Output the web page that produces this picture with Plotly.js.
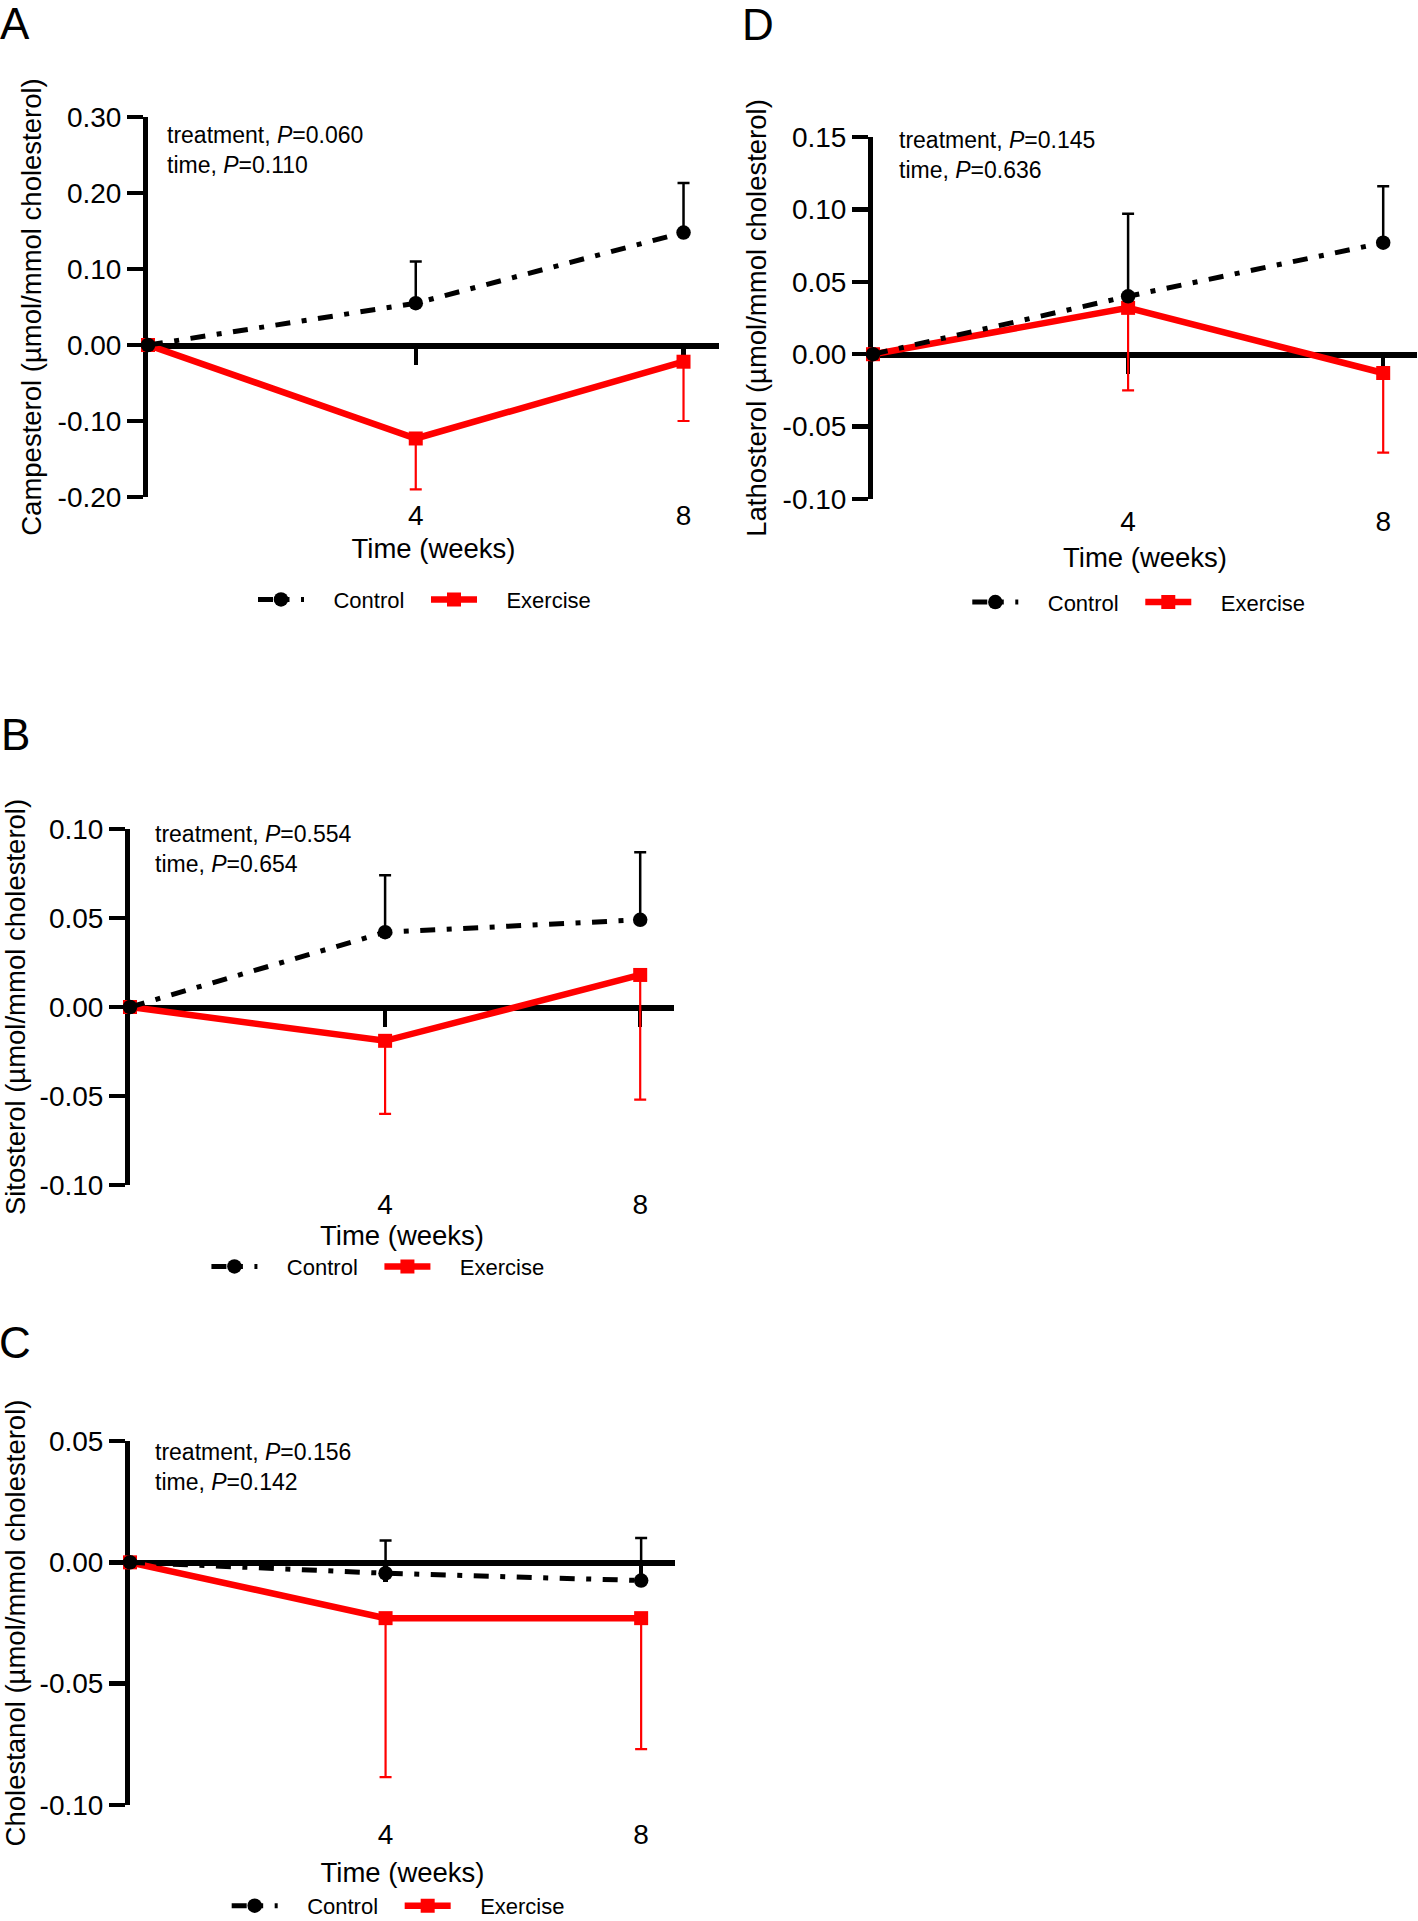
<!DOCTYPE html>
<html>
<head>
<meta charset="utf-8">
<script src="https://cdn.plot.ly/plotly-3.0.1.min.js"></script>
<style>
  body { margin: 0; background: #fff; }
  #page { position: relative; width: 1418px; height: 1921px; overflow: hidden; background: #fff; }
  .panel { position: absolute; }
</style>
</head>
<body>
<div id="page">
  <div id="panelA" class="panel"></div>
  <div id="panelD" class="panel"></div>
  <div id="panelB" class="panel"></div>
  <div id="panelC" class="panel"></div>
</div>
<script>
// time points (weeks)
const weeks = [0, 4, 8];
const weekTicks = [4, 8];
const weekLabels = ['4', '8'];
const noErr = [0, 0, 0];

// A - Campesterol
const campControl = [0, 0.055, 0.148];
const campControlSD = [0, 0.055, 0.065];
const campExercise = [0, -0.123, -0.022];
const campExerciseSD = [0, 0.067, 0.078];
const campTicks = [-0.2, -0.1, 0, 0.1, 0.2, 0.3];
const campLabels = ['-0.20', '-0.10', '0.00', '0.10', '0.20', '0.30'];
const campP = ['0.060', '0.110'];

// D - Lathosterol
const lathControl = [0, 0.040, 0.077];
const lathControlSD = [0, 0.057, 0.039];
const lathExercise = [0, 0.032, -0.013];
const lathExerciseSD = [0, 0.057, 0.055];
const lathTicks = [-0.1, -0.05, 0, 0.05, 0.1, 0.15];
const lathLabels = ['-0.10', '-0.05', '0.00', '0.05', '0.10', '0.15'];
const lathP = ['0.145', '0.636'];

// B - Sitosterol
const sitoControl = [0, 0.042, 0.049];
const sitoControlSD = [0, 0.032, 0.038];
const sitoExercise = [0, -0.019, 0.018];
const sitoExerciseSD = [0, 0.041, 0.070];
const sitoTicks = [-0.1, -0.05, 0, 0.05, 0.1];
const sitoLabels = ['-0.10', '-0.05', '0.00', '0.05', '0.10'];
const sitoP = ['0.554', '0.654'];

// C - Cholestanol
const cholControl = [0, -0.0045, -0.0075];
const cholControlSD = [0, 0.0135, 0.0175];
const cholExercise = [0, -0.023, -0.023];
const cholExerciseSD = [0, 0.0655, 0.054];
const cholTicks = [-0.1, -0.05, 0, 0.05];
const cholLabels = ['-0.10', '-0.05', '0.00', '0.05'];
const cholP = ['0.156', '0.142'];

const FONT = 'Liberation Sans, Arial, Helvetica, sans-serif';
const XMAX = 8.53;
const PAD = '\u00a0\u00a0\u00a0\u00a0'; // gap between legend symbol and label

// box / plot are page pixels: box = [left, top, w, h], plot = [x0, y0, x1, y1]
function drawPanel(cfg) {
    const [bx, by, bw, bh] = cfg.box;
    const [px0, py0, px1, py1] = cfg.plot;
    const el = document.getElementById(cfg.id);
    el.style.left = bx + 'px';
    el.style.top = by + 'px';
    el.style.width = bw + 'px';
    el.style.height = bh + 'px';

    const pw = px1 - px0, ph = py1 - py0;
    const fx = x => (x - px0) / pw;
    const fy = y => (py1 - y) / ph;
    const yr = [cfg.ticks[0], cfg.ticks[cfg.ticks.length - 1]];
    const zeroPos = (0 - yr[0]) / (yr[1] - yr[0]);

    // exercise sits on the bottom (label) axis, control on the axis through y = 0
    const exercise = {
        x: weeks, y: cfg.exercise, name: PAD + 'Exercise', type: 'scatter', mode: 'lines+markers',
        xaxis: 'x', yaxis: 'y',
        line: { color: '#ff0000', width: 6.5 },
        marker: { symbol: 'square', size: 14, color: '#ff0000' },
        error_y: { type: 'data', symmetric: false, array: noErr, arrayminus: cfg.exerciseSD,
                   color: '#ff0000', thickness: 2.2, width: 6 },
        cliponaxis: false, legendrank: 2
    };
    const control = {
        x: weeks, y: cfg.control, name: PAD + 'Control', type: 'scatter', mode: 'lines+markers',
        xaxis: 'x2', yaxis: 'y',
        line: { color: '#000000', width: 5, dash: '15px,11.5px,5px,11.5px' },
        marker: { symbol: 'circle', size: 14.5, color: '#000000' },
        error_y: { type: 'data', symmetric: false, array: cfg.controlSD, arrayminus: noErr,
                   color: '#000000', thickness: 2.5, width: 6 },
        cliponaxis: false, legendrank: 1
    };

    const layout = {
        width: bw, height: bh,
        margin: { l: px0 - bx, r: bx + bw - px1, t: py0 - by, b: by + bh - py1, pad: 0 },
        paper_bgcolor: '#ffffff', plot_bgcolor: '#ffffff',
        font: { family: FONT, color: '#000' },
        showlegend: true,
        legend: {
            orientation: 'h', x: fx(cfg.legend[0]), xanchor: 'left',
            y: fy(cfg.legend[1]), yanchor: 'middle',
            font: { family: FONT, size: 22, color: '#000' },
            itemwidth: 46, entrywidth: 112, bgcolor: 'rgba(0,0,0,0)'
        },
        xaxis: {
            range: [0, XMAX], showline: false, showgrid: false, zeroline: false,
            tickvals: weekTicks, ticktext: weekLabels,
            ticks: 'outside', ticklen: 0, tickcolor: 'rgba(0,0,0,0)',
            ticklabelstandoff: cfg.xLabelShift,
            tickfont: { family: FONT, size: 28 },
            title: { text: 'Time (weeks)', font: { family: FONT, size: 27.5 }, standoff: cfg.xTitleGap }
        },
        // horizontal axis drawn through y = 0
        xaxis2: {
            overlaying: 'x', anchor: 'free', position: zeroPos, side: 'bottom', range: [0, XMAX],
            showline: true, linewidth: 5.5, linecolor: '#000',
            ticks: 'outside', ticklen: 16, tickwidth: 4.5, tickcolor: '#000',
            tickvals: weekTicks, showticklabels: false,
            showgrid: false, zeroline: false, layer: 'below traces'
        },
        yaxis: {
            range: yr, showline: true, linewidth: 5, linecolor: '#000',
            ticks: 'outside', ticklen: 16, tickwidth: 4.5, tickcolor: '#000',
            tickvals: cfg.ticks, ticktext: cfg.labels,
            tickfont: { family: FONT, size: 28 },
            showgrid: false, zeroline: false, layer: 'below traces',
            title: { text: cfg.yTitle, font: { family: FONT, size: 27.5 }, standoff: cfg.yTitleGap }
        },
        annotations: [
            {
                xref: 'paper', yref: 'paper', x: fx(cfg.stats[0]), y: fy(cfg.stats[1]),
                xanchor: 'left', yanchor: 'middle', align: 'left', showarrow: false,
                text: 'treatment, <i>P</i>=' + cfg.p[0] + '<br>time, <i>P</i>=' + cfg.p[1],
                font: { family: FONT, size: 23 }
            },
            {
                xref: 'paper', yref: 'paper', x: fx(cfg.letterPos[0]), y: fy(cfg.letterPos[1]),
                xanchor: 'left', yanchor: 'middle', showarrow: false,
                text: cfg.letter, font: { family: FONT, size: 44 }
            }
        ]
    };

    Plotly.newPlot(cfg.id, [exercise, control], layout, { displayModeBar: false, staticPlot: true });
}

drawPanel({
    id: 'panelA', letter: 'A', box: [0, 0, 720, 640], plot: [148, 117.4, 148 + 66.94 * XMAX, 497.4],
    control: campControl, controlSD: campControlSD, exercise: campExercise, exerciseSD: campExerciseSD,
    ticks: campTicks, labels: campLabels, p: campP,
    yTitle: 'Campesterol (µmol/mmol cholesterol)',
    stats: [165, 150.8], legend: [253, 600], letterPos: [-2, 24],
    xLabelShift: -7, xTitleGap: 9, yTitleGap: 9
});

drawPanel({
    id: 'panelD', letter: 'D', box: [730, 0, 688, 640], plot: [872.6, 137.4, 872.6 + 63.85 * XMAX, 499.4],
    control: lathControl, controlSD: lathControlSD, exercise: lathExercise, exerciseSD: lathExerciseSD,
    ticks: lathTicks, labels: lathLabels, p: lathP,
    yTitle: 'Lathosterol (µmol/mmol cholesterol)',
    stats: [896.5, 155.1], legend: [967, 602.7], letterPos: [739, 25],
    xLabelShift: -3, xTitleGap: 12, yTitleGap: 9
});

drawPanel({
    id: 'panelB', letter: 'B', box: [0, 700, 700, 600], plot: [129.5, 829.3, 129.5 + 63.84 * XMAX, 1190.2],
    control: sitoControl, controlSD: sitoControlSD, exercise: sitoExercise, exerciseSD: sitoExerciseSD,
    ticks: sitoTicks, labels: sitoLabels, p: sitoP,
    yTitle: 'Sitosterol (µmol/mmol cholesterol)',
    stats: [153, 849.7], legend: [206, 1272.9], letterPos: [-2, 733.7],
    xLabelShift: -6, xTitleGap: 5, yTitleGap: 11
});

// box runs past the page bottom so the legend does not push the plot margins
drawPanel({
    id: 'panelC', letter: 'C', box: [0, 1300, 700, 680], plot: [130.4, 1440.6, 130.4 + 63.84 * XMAX, 1805],
    control: cholControl, controlSD: cholControlSD, exercise: cholExercise, exerciseSD: cholExerciseSD,
    ticks: cholTicks, labels: cholLabels, p: cholP,
    yTitle: 'Cholestanol (µmol/mmol cholesterol)',
    stats: [153, 1466.7], legend: [227, 1906], letterPos: [-2, 1342],
    xLabelShift: 4, xTitleGap: 14, yTitleGap: 12
});
</script>
</body>
</html>
